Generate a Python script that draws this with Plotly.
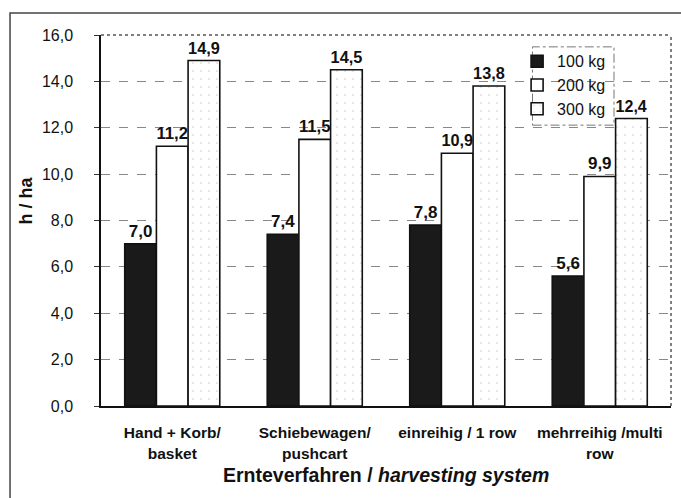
import plotly.graph_objects as go

categories = ["Hand + Korb/<br>basket", "Schiebewagen/<br>pushcart", "einreihig / 1 row", "mehrreihig /multi<br>row"]
series_names = ["100 kg", "200 kg", "300 kg"]
v100 = [7.0, 7.4, 7.8, 5.6]
v200 = [11.2, 11.5, 10.9, 9.9]
v300 = [14.9, 14.5, 13.8, 12.4]
y_ticks = [0, 2, 4, 6, 8, 10, 12, 14, 16]

FONT = "Liberation Sans, Arial, sans-serif"

fig = go.Figure()
styles = [
    dict(color="#1a1a1a"),
    dict(color="white"),
    dict(color="white", pattern=dict(shape=".", fgcolor="#c4c4c4", size=8, solidity=0.06)),
]
for name, vals, st in zip(series_names, [v100, v200, v300], styles):
    fig.add_trace(go.Bar(
        x=categories, y=vals, name=name,
        marker=dict(line=dict(color="#111", width=1.6), **st),
        texttemplate="%{y:.1f}", textposition="outside",
        textfont=dict(family=FONT, size=17, color="#111", weight="bold"),
        cliponaxis=False,
    ))

fig.update_layout(
    width=681, height=498,
    margin=dict(l=101, r=10, t=35, b=92),
    paper_bgcolor="white", plot_bgcolor="white",
    separators=",.",
    barmode="group", bargap=0.333, bargroupgap=0,
    font=dict(family=FONT, color="#111"),
    showlegend=True,
    legend=dict(x=0.73, y=0.975, xanchor="left", yanchor="top",
                bgcolor="rgba(255,255,255,0)", borderwidth=0,
                font=dict(size=16, family=FONT), tracegroupgap=0,
                itemwidth=30, traceorder="normal"),
    xaxis=dict(showline=True, linecolor="#111", linewidth=1.5, showgrid=False,
               tickfont=dict(size=15.5, family=FONT, weight="bold"),
               ticklabelstandoff=12, ticks=""),
    yaxis=dict(range=[0, 16], tickvals=y_ticks, tickformat=".1f",
               showline=True, linecolor="#111", linewidth=1.5,
               ticks="outside", ticklen=5, tickcolor="#333",
               showgrid=True, gridcolor="#888", griddash="dash", gridwidth=1,
               zeroline=False,
               tickfont=dict(size=16, family=FONT), ticklabelstandoff=18),
    shapes=[
        dict(type="rect", xref="paper", yref="paper", x0=-0.1596, x1=1.05, y0=-0.4, y1=1.0593,
             line=dict(color="#444", width=1.5)),
        dict(type="line", xref="paper", yref="paper", x0=0, x1=1, y0=1, y1=1,
             line=dict(color="#555", width=1.5, dash="dot")),
        dict(type="line", xref="paper", yref="paper", x0=1, x1=1, y0=0, y1=1,
             line=dict(color="#555", width=1.5, dash="dot")),
        dict(type="rect", xref="paper", yref="paper", x0=0.757, x1=0.9, y0=0.757, y1=0.968,
             line=dict(color="#777", width=1, dash="dashdot"), fillcolor="white", layer="below"),
    ],
    annotations=[
        dict(text="<b>h / ha</b>", xref="paper", yref="paper", x=-0.152, y=0.555,
             textangle=-90, showarrow=False, font=dict(size=18, family=FONT)),
        dict(text="<b>Ernteverfahren / <i>harvesting system</i></b>", xref="paper", yref="paper",
             x=0.5, y=-0.185, yanchor="middle", showarrow=False, font=dict(size=19.5, family=FONT)),
    ],
)

fig.write_html("out.html")
